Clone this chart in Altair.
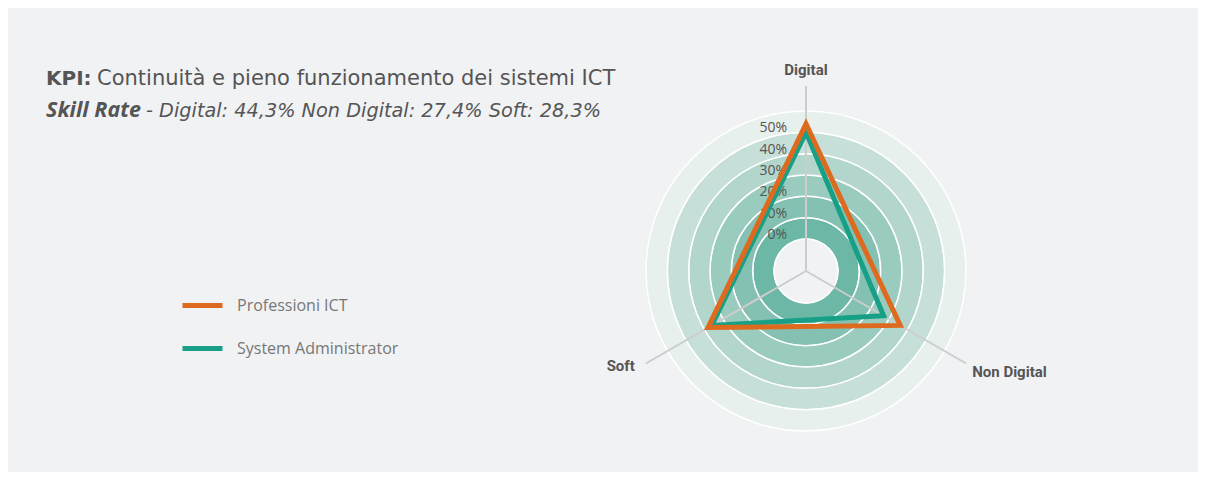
import math
import altair as alt
import pandas as pd

# ---- data ----
axes_names = ["Digital", "Non Digital", "Soft"]
axes_angles_deg = [0, 120, 240]
series_names = ["Professioni ICT", "System Administrator"]
professioni_ict = [54.0, 36.0, 38.0]
system_admin = [50.0, 27.0, 36.0]
ring_levels = [0, 10, 20, 30, 40, 50, 60]
tick_levels = [0, 10, 20, 30, 40, 50]
tick_labels = ["0%", "10%", "20%", "30%", "40%", "50%"]
band_colors = ["#6cb7a6", "#85c1b2", "#9acbbf", "#b2d5cc", "#c6dfd8", "#e7f0ed"]
series_colors = ["#dd6a1f", "#17a086"]

# ---- layout (pixels inside the view) ----
W, H = 1190, 464
CX, CY = 798, 263
R0, R60 = 32, 160
K = (R60 - R0) / 60.0
SPOKE = 185
FONT = "Roboto"
FONT2 = "Open Sans"
FONT3 = "DejaVu Sans"

xs = alt.Scale(domain=[0, W], nice=False, zero=False)
ys = alt.Scale(domain=[0, H], nice=False, zero=False, reverse=True)
rs = alt.Scale(type="linear", domain=[0, 60], range=[R0, R60], zero=False, nice=False)


def radial_xy(value, angle_deg):
    r = R0 + value * K
    a = math.radians(angle_deg)
    return CX + r * math.sin(a), CY - r * math.cos(a)


# bands
bands = pd.DataFrame({
    "inner": ring_levels[:-1],
    "outer": ring_levels[1:],
    "color": band_colors,
    "cx": [CX] * len(band_colors),
    "cy": [CY] * len(band_colors),
})
band_layer = alt.Chart(bands).mark_arc(
    theta=0, theta2=2 * math.pi, stroke="white", strokeWidth=1.5
).encode(
    x=alt.X("cx:Q", scale=xs, axis=None),
    y=alt.Y("cy:Q", scale=ys, axis=None),
    radius=alt.Radius("outer:Q", scale=rs),
    radius2="inner:Q",
    fill=alt.Fill("color:N", scale=None),
)

hole = pd.DataFrame({"lvl": [0], "cx": [CX], "cy": [CY]})
hole_layer = alt.Chart(hole).mark_arc(
    theta=0, theta2=2 * math.pi, fill="white", stroke="white", strokeWidth=1
).encode(
    x=alt.X("cx:Q", scale=xs, axis=None),
    y=alt.Y("cy:Q", scale=ys, axis=None),
    radius=alt.Radius("lvl:Q", scale=rs),
    radius2=alt.value(0),
)

# spokes
spk = []
for name, ang in zip(axes_names, axes_angles_deg):
    a = math.radians(ang)
    spk.append({"axis": name, "x": CX, "y": CY,
                "x2": CX + SPOKE * math.sin(a), "y2": CY - SPOKE * math.cos(a)})
spokes = pd.DataFrame(spk)
spoke_layer = alt.Chart(spokes).mark_rule(color="#cdcdcd", strokeWidth=2).encode(
    x=alt.X("x:Q", scale=xs, axis=None),
    y=alt.Y("y:Q", scale=ys, axis=None),
    x2="x2:Q",
    y2="y2:Q",
)

# radial tick labels
ticks = pd.DataFrame({"lvl": tick_levels, "label": tick_labels})
ticks["ly"] = CY - (R0 + ticks["lvl"] * K)
tick_layer = alt.Chart(ticks).mark_text(
    align="right", baseline="alphabetic", font=FONT2, fontSize=14, color="#555555"
).encode(
    x=alt.value(CX - 19),
    y=alt.Y("ly:Q", scale=ys, axis=None),
    text="label:N",
)


# series polygons
def series_df(name, values):
    rows = []
    for i, (axn, ang, v) in enumerate(zip(axes_names, axes_angles_deg, values)):
        px, py = radial_xy(v, ang)
        rows.append({"series": name, "axis": axn, "value": v, "idx": i, "px": px, "py": py})
    return pd.DataFrame(rows)


color_scale = alt.Scale(domain=series_names, range=series_colors)
legend = alt.Legend(
    title=None, orient="none", legendX=172, legendY=275,
    symbolType="stroke", symbolSize=1600, symbolStrokeWidth=5,
    labelFont=FONT2, labelFontSize=16, labelColor="#777777",
    labelOffset=12, rowPadding=10, labelLimit=400,
)


def poly_layer(name, values):
    return alt.Chart(series_df(name, values)).mark_line(
        strokeWidth=5, strokeJoin="miter", interpolate="linear-closed"
    ).encode(
        x=alt.X("px:Q", scale=xs, axis=None),
        y=alt.Y("py:Q", scale=ys, axis=None),
        order="idx:Q",
        color=alt.Color("series:N", scale=color_scale, legend=legend),
    )


teal_layer = poly_layer(series_names[1], system_admin)
orange_layer = poly_layer(series_names[0], professioni_ict)


# axis labels
def axis_label(name, align, dx, dy):
    ang = axes_angles_deg[axes_names.index(name)]
    a = math.radians(ang)
    ex, ey = CX + SPOKE * math.sin(a), CY - SPOKE * math.cos(a)
    df = pd.DataFrame({"t": [name], "lx": [ex + dx], "ly": [ey + dy]})
    return alt.Chart(df).mark_text(
        align=align, baseline="middle", font=FONT, fontSize=15,
        fontWeight="bold", color="#555555"
    ).encode(
        x=alt.X("lx:Q", scale=xs, axis=None),
        y=alt.Y("ly:Q", scale=ys, axis=None),
        text="t:N",
    )


lab_digital = axis_label("Digital", "center", 0, -16)
lab_nondig = axis_label("Non Digital", "left", 6, 8.5)
lab_soft = axis_label("Soft", "right", -11, 2.5)


def txt(s, x, y, size, weight="normal", style="normal", color="#555555", font=FONT3):
    return alt.Chart(pd.DataFrame({"t": [s]})).mark_text(
        align="left", baseline="alphabetic", font=font, fontSize=size,
        fontWeight=weight, fontStyle=style, color=color
    ).encode(x=alt.value(x), y=alt.value(y), text="t:N")


t1a = txt("KPI:", 38, 77, 20, weight="bold")
t1b = txt("Continuità e pieno funzionamento dei sistemi ICT", 89, 77, 21)
t2a = txt("Skill Rate", 38, 109, 21.5, weight="bold", style="italic", font=FONT2)
t2b = txt("- Digital: 44,3% Non Digital: 27,4% Soft: 28,3%", 138, 109, 19.3, style="italic")

chart = alt.layer(
    band_layer, hole_layer, spoke_layer, tick_layer, teal_layer, orange_layer,
    lab_digital, lab_nondig, lab_soft, t1a, t1b, t2a, t2b,
).properties(
    width=W, height=H, padding=0, autosize=alt.AutoSizeParams(type="none"),
).configure(background="#f1f2f4").configure_view(stroke=None)

chart.save("out.html", embed_options={"renderer": "svg", "actions": False})
